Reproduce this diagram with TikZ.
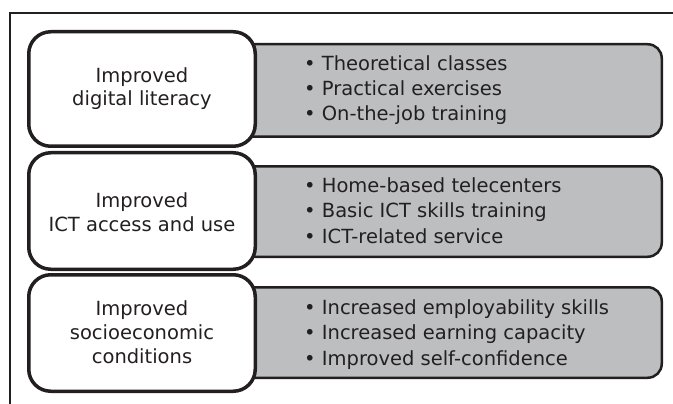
\documentclass[tikz,border=0pt]{standalone}
\usepackage{fontspec}
\setmainfont{DejaVu Sans}
\definecolor{panelgray}{HTML}{BCBEC0}
\definecolor{inkdark}{HTML}{231F20}
\begin{document}
\begin{tikzpicture}[x=1pt, y=-1pt,
  outcome/.style={draw=inkdark, fill=white, line width=3.5pt, rounded corners=22pt,
    minimum width=226.5pt, inner sep=0pt},
  activities/.style={draw=inkdark, fill=panelgray, line width=2.5pt, rounded corners=14pt,
    minimum width=420.5pt, inner sep=0pt},
  outcometext/.style={align=center, inner sep=0pt, text height=14pt, text depth=4pt,
    text=inkdark, font=\fontsize{19.5}{23.5}\selectfont},
  bullettext/.style={align=left, anchor=west, inner sep=0pt, text height=14pt, text depth=4pt,
    text=inkdark, font=\fontsize{19.5}{25.5}\selectfont},
  frameline/.style={draw=inkdark, line width=1.5pt}]
  \useasboundingbox (0,0) rectangle (673,404);

  % partial frame: top and left rules
  \coordinate (frameTL) at (10,13);
  \coordinate (frameTR) at (673,13);
  \coordinate (frameBL) at (10,404);
  \draw[frameline] (frameBL) -- (frameTL) -- (frameTR);

  % grey activity panels, drawn first so the outcome boxes overlap them
  \node[activities, minimum height=92.5pt] (g1) at (451.5,90.5) {};
  \node[activities, minimum height=90.5pt] (g2) at (451.5,211.5) {};
  \node[activities, minimum height=90.5pt] (g3) at (451.5,332.5) {};

  % white outcome boxes
  \node[outcome, minimum height=114.5pt] (o1) at (142,89) {};
  \node[outcome, minimum height=116.5pt] (o2) at (142,211) {};
  \node[outcome, minimum height=116.5pt] (o3) at (142,333) {};

  % outcome labels (node centre sits 5pt above the last baseline)
  \node[outcometext] (l1) at (142,101) {Improved\\digital literacy};
  \node[outcometext] (l2) at (142,226) {Improved\\ICT access and use};
  \node[outcometext, font=\fontsize{19.5}{24}\selectfont] (l3) at (142,358) {Improved\\socioeconomic\\conditions};

  % activity lists
  \node[bullettext] (b1) at (304,116) {• Theoretical classes\\• Practical exercises\\• On-the-job training};
  \node[bullettext] (b2) at (304,238) {• Home-based telecenters\\• Basic ICT skills training\\• ICT-related service};
  \node[bullettext] (b3) at (304,360) {• Increased employability skills\\• Increased earning capacity\\• Improved self-confidence};
\end{tikzpicture}
\end{document}
